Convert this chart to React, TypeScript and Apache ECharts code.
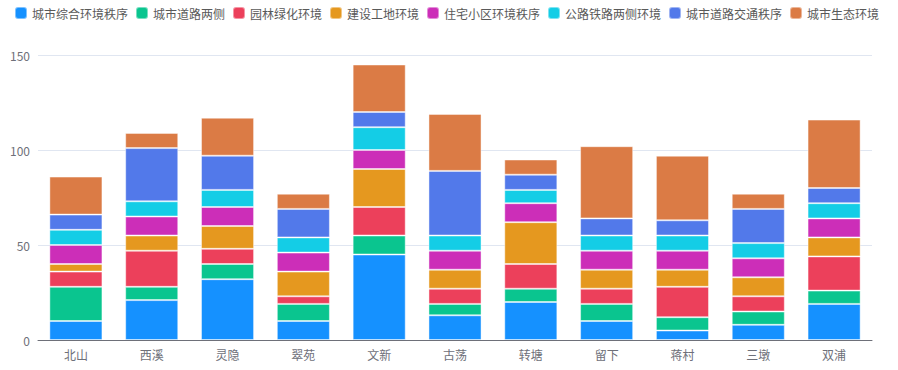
import React, { useEffect, useRef } from "react";
import * as echarts from "echarts";

const categories = ["北山", "西溪", "灵隐", "翠苑", "文新", "古荡", "转塘", "留下", "蒋村", "三墩", "双浦"];
const seriesNames = ["城市综合环境秩序", "城市道路两侧", "园林绿化环境", "建设工地环境", "住宅小区环境秩序", "公路铁路两侧环境", "城市道路交通秩序", "城市生态环境"];
const s1 = [10, 21, 32, 10, 45, 13, 20, 10, 5, 8, 19];
const s2 = [18, 7, 8, 9, 10, 6, 7, 9, 7, 7, 7];
const s3 = [8, 19, 8, 4, 15, 8, 13, 8, 16, 8, 18];
const s4 = [4, 8, 12, 13, 20, 10, 22, 10, 9, 10, 10];
const s5 = [10, 10, 10, 10, 10, 10, 10, 10, 10, 10, 10];
const s6 = [8, 8, 9, 8, 12, 8, 7, 8, 8, 8, 8];
const s7 = [8, 28, 18, 15, 8, 34, 8, 9, 8, 18, 8];
const s8 = [20, 8, 20, 8, 25, 30, 8, 38, 34, 8, 36];
const yTicks = [0, 50, 100, 150];
const colors = ["#1591FF", "#0AC58F", "#EC405B", "#E5981F", "#CC2EB8", "#14CDE6", "#5279EA", "#DB7B45"];

export default function App() {
  const ref = useRef<HTMLDivElement>(null);
  useEffect(() => {
    if (!ref.current) return;
    const chart = echarts.init(ref.current, undefined, { renderer: "svg" });
    const all = [s1, s2, s3, s4, s5, s6, s7, s8];
    chart.setOption({
      animation: false,
      color: colors,
      textStyle: { fontFamily: "'Noto Sans CJK SC', 'Noto Sans', sans-serif" },
      legend: {
        top: 1,
        left: 9,
        itemWidth: 12,
        itemHeight: 12,
        itemGap: 7,
        icon: "roundRect",
        textStyle: { fontSize: 12, color: "#595959" },
        data: seriesNames,
      },
      grid: { left: 38, right: 26, top: 55, bottom: 30 },
      xAxis: {
        type: "category",
        data: categories,
        axisLine: { lineStyle: { color: "#6E7079" } },
        axisTick: { lineStyle: { color: "#6E7079" } },
        axisLabel: { color: "#6E7079", fontSize: 12 },
      },
      yAxis: {
        type: "value",
        min: yTicks[0],
        max: yTicks[yTicks.length - 1],
        interval: 50,
        axisLabel: { color: "#6E7079", fontSize: 12 },
        splitLine: { lineStyle: { color: "#E0E6F1" } },
      },
      series: seriesNames.map((name, i) => ({
        name,
        type: "bar",
        stack: "total",
        barWidth: "70%",
        data: all[i],
        itemStyle: { borderColor: "rgba(255,255,255,0.45)", borderWidth: 1 },
      })),
    });
    return () => chart.dispose();
  }, []);
  return <div ref={ref} style={{ position: "absolute", left: 0, top: 0, width: 898, height: 370 }} />;
}
